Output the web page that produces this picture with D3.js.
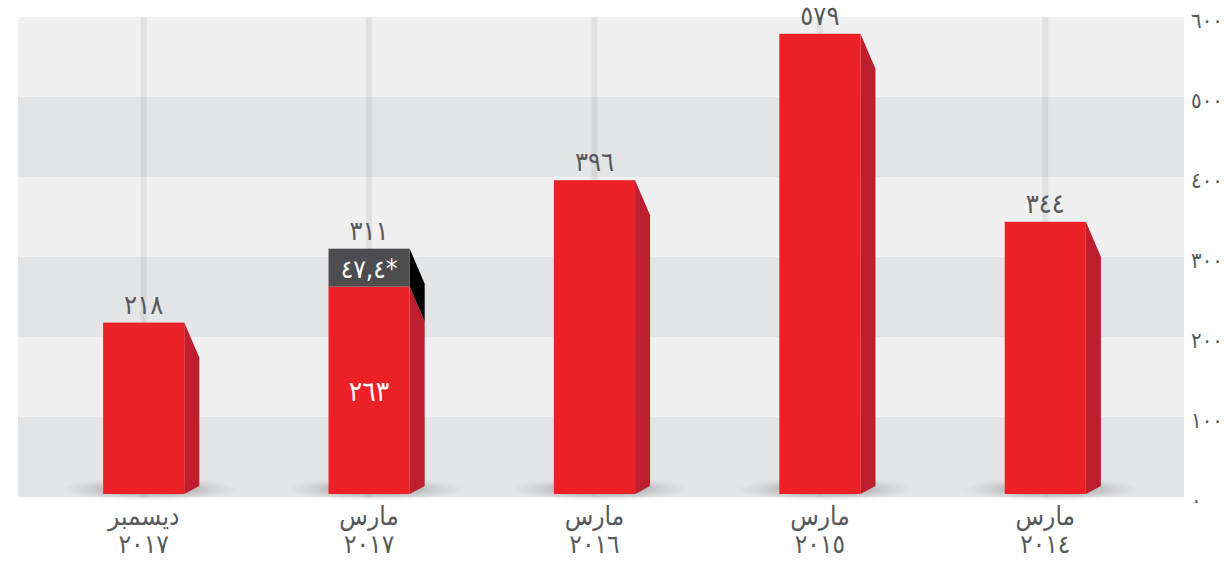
<!DOCTYPE html>
<html lang="ar">
<head>
<meta charset="utf-8">
<script src="https://cdn.jsdelivr.net/npm/d3@7"></script>
<style>
  body { margin: 0; background: #fff; }
  svg text { font-family: "DejaVu Sans Condensed", "DejaVu Sans", sans-serif; }
</style>
</head>
<body>
<script>
(function(){

	//chart values, in chronological order (drawn right to left)
	var months = ["مارس", "مارس", "مارس", "مارس", "ديسمبر"];
	var years = [2014, 2015, 2016, 2017, 2017];
	var totals = [344, 579, 396, 311, 218];
	var baseValues = [344, 579, 396, 263, 218];
	var extraValues = [0, 0, 0, 47.4, 0];
	var extraLabels = ["", "", "", "47,4*", ""];
	var yTicks = [0, 100, 200, 300, 400, 500, 600];

	var width = 1224, height = 561;
	var plotLeft = 18, plotRight = 1184, plotTop = 17, plotBottom = 497;

	//western digits -> arabic-indic digits
	function ar(v){
		return String(v).replace(/\d/g, function(c){ return "٠١٢٣٤٥٦٧٨٩"[+c]; });
	}

	var svg = d3.select("body")
		.append("svg")
		.attr("width", width)
		.attr("height", height);

	var idx = d3.range(months.length);

	var x = d3.scaleBand()
		.domain(idx)
		.range([1158, 31])
		.paddingInner(0.64)
		.paddingOuter(0.32);

	var y = d3.scaleLinear()
		.domain([0, 600])
		.range([plotBottom, plotTop]);

	var bw = x.bandwidth(),
		depthX = 15, depthY = 35;

	//alternating background bands
	svg.append("g").selectAll("rect")
		.data(yTicks.slice(0, -1))
		.enter()
		.append("rect")
		.attr("x", plotLeft)
		.attr("width", plotRight - plotLeft)
		.attr("y", function(d){ return y(d + 100); })
		.attr("height", function(d){ return y(d) - y(d + 100); })
		.attr("fill", function(d, i){ return i % 2 == 0 ? "#e4e5e7" : "#f0f0f0"; });

	//vertical grid lines through each bar
	svg.append("g").selectAll("rect")
		.data(idx)
		.enter()
		.append("rect")
		.attr("x", function(d){ return x(d) + bw / 2 - 3; })
		.attr("width", 6)
		.attr("y", plotTop)
		.attr("height", plotBottom - plotTop)
		.attr("fill", "rgba(0,0,0,0.06)");

	//soft shadow under bars
	var grad = svg.append("defs").append("radialGradient")
		.attr("id", "shadow");
	grad.append("stop").attr("offset", "0%").attr("stop-color", "#777").attr("stop-opacity", 0.8);
	grad.append("stop").attr("offset", "55%").attr("stop-color", "#999").attr("stop-opacity", 0.45);
	grad.append("stop").attr("offset", "100%").attr("stop-color", "#bbb").attr("stop-opacity", 0);

	svg.append("g").selectAll("ellipse")
		.data(idx)
		.enter()
		.append("ellipse")
		.attr("cx", function(d){ return x(d) + bw / 2 + 6; })
		.attr("cy", y(0) - 8)
		.attr("rx", 90)
		.attr("ry", 12)
		.attr("fill", "url(#shadow)");

	var bars = svg.append("g").selectAll("g")
		.data(idx)
		.enter()
		.append("g");

	var bottomFront = y(0) - 3, bottomSide = y(0) - 11;

	//red base segment: side face then front face
	bars.append("polygon")
		.attr("points", function(d){
			var xr = x(d) + bw, t = y(baseValues[d]);
			return [[xr, t], [xr + depthX, t + depthY], [xr + depthX, bottomSide], [xr, bottomFront]].join(" ");
		})
		.attr("fill", "#be1e2d");

	bars.append("rect")
		.attr("x", function(d){ return x(d); })
		.attr("width", bw)
		.attr("y", function(d){ return y(baseValues[d]); })
		.attr("height", function(d){ return bottomFront - y(baseValues[d]); })
		.attr("fill", "#ec2027");

	//dark extra segment on top
	var extra = bars.filter(function(d){ return extraValues[d] > 0; });

	extra.append("polygon")
		.attr("points", function(d){
			var xr = x(d) + bw, t = y(baseValues[d] + extraValues[d]), b = y(baseValues[d]);
			return [[xr, t], [xr + depthX, t + depthY], [xr + depthX, b + depthY], [xr, b]].join(" ");
		})
		.attr("fill", "#000");

	extra.append("rect")
		.attr("x", function(d){ return x(d); })
		.attr("width", bw)
		.attr("y", function(d){ return y(baseValues[d] + extraValues[d]); })
		.attr("height", function(d){ return y(baseValues[d]) - y(baseValues[d] + extraValues[d]); })
		.attr("fill", "#4d4d4f");

	extra.append("text")
		.attr("x", function(d){ return x(d) + bw / 2; })
		.attr("y", function(d){ return (y(baseValues[d]) + y(baseValues[d] + extraValues[d])) / 2; })
		.attr("dy", "0.38em")
		.attr("text-anchor", "middle")
		.attr("font-size", 26)
		.attr("fill", "#fff")
		.text(function(d){ return ar(extraLabels[d]); });

	//base value inside stacked bar
	extra.append("text")
		.attr("x", function(d){ return x(d) + bw / 2; })
		.attr("y", function(d){ return (y(baseValues[d]) + bottomFront) / 2; })
		.attr("dy", "0.38em")
		.attr("text-anchor", "middle")
		.attr("font-size", 28)
		.attr("fill", "#fff")
		.text(function(d){ return ar(baseValues[d]); });

	//total above each bar
	bars.append("text")
		.attr("x", function(d){ return x(d) + bw / 2; })
		.attr("y", function(d){ return y(baseValues[d] + extraValues[d]) - 9; })
		.attr("text-anchor", "middle")
		.attr("font-size", 27)
		.attr("fill", "#58595b")
		.text(function(d){ return ar(totals[d]); });

	//category labels, two lines
	var cat = svg.append("g").selectAll("text")
		.data(idx)
		.enter()
		.append("text")
		.attr("text-anchor", "middle")
		.attr("font-size", 26)
		.attr("fill", "#58595b");
	cat.append("tspan")
		.attr("x", function(d){ return x(d) + bw / 2; })
		.attr("y", 525)
		.text(function(d){ return months[d]; });
	cat.append("tspan")
		.attr("x", function(d){ return x(d) + bw / 2; })
		.attr("y", 553)
		.text(function(d){ return ar(years[d]); });

	//y axis on the right
	var axis = svg.append("g")
		.attr("transform", "translate(" + (plotRight + 6) + ",3)")
		.call(d3.axisRight(y).tickValues(yTicks).tickSize(0).tickPadding(1).tickFormat(ar));
	axis.select(".domain").remove();
	axis.selectAll("text")
		.attr("font-size", 22)
		.attr("letter-spacing", -1)
		.attr("fill", "#58595b")
		.style("font-family", "\"DejaVu Sans Condensed\", \"DejaVu Sans\", sans-serif");

})();
</script>
</body>
</html>
